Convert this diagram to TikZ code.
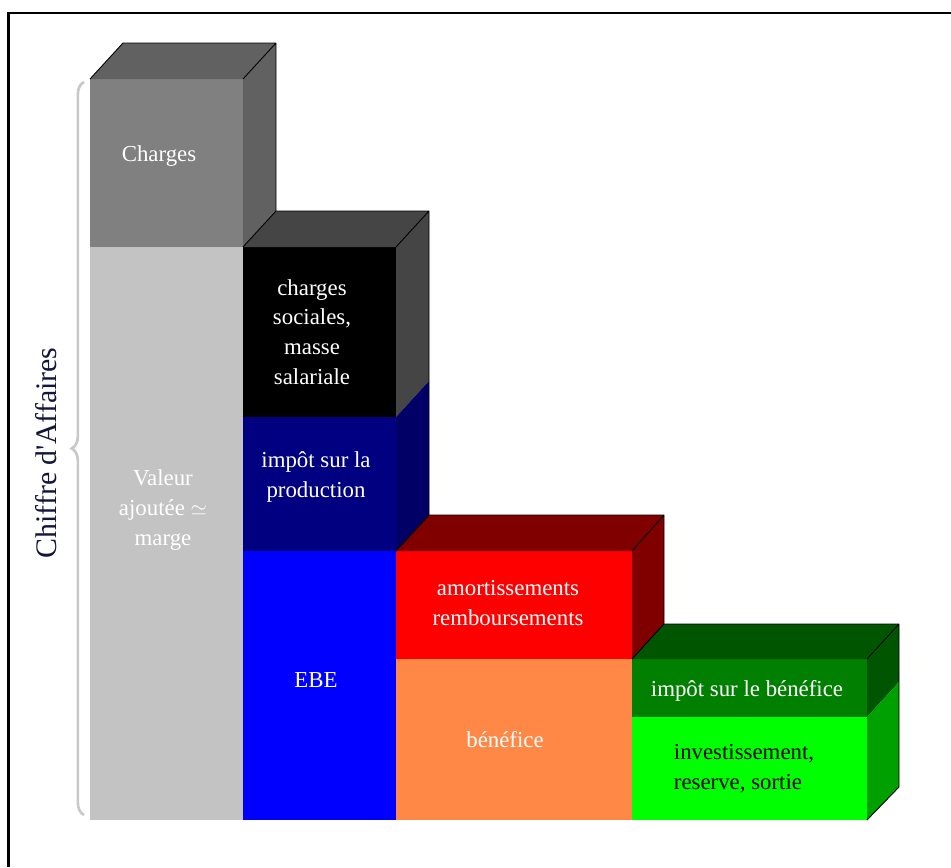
\documentclass[tikz,border=0pt]{standalone}
\usepackage{fontspec}
\setmainfont{Liberation Serif}
\usetikzlibrary{decorations.pathreplacing}

\definecolor{chargesfront}{HTML}{808080}
\definecolor{chargesdark}{HTML}{616161}
\definecolor{valeurfront}{HTML}{C3C3C3}
\definecolor{salairesdark}{HTML}{454545}
\definecolor{prodfront}{HTML}{000080}
\definecolor{proddark}{HTML}{000066}
\definecolor{ebefront}{HTML}{0000FF}
\definecolor{amortfront}{HTML}{FF0000}
\definecolor{amortdark}{HTML}{800000}
\definecolor{beneffront}{HTML}{FF8847}
\definecolor{impbfront}{HTML}{007F00}
\definecolor{impbdark}{HTML}{005600}
\definecolor{investfront}{HTML}{00FF00}
\definecolor{investdark}{HTML}{00A000}
\definecolor{bracegray}{HTML}{C8C8C8}
\definecolor{catext}{HTML}{14143C}

\begin{document}
\begin{tikzpicture}[
    x=0.02cm, y=-0.02cm,
    face/.style={fill=#1},
    edge/.style={draw=black, line width=0.5pt, line join=round},
    boxtext/.style={
        text=white,
        align=center,
        font=\fontsize{13}{17}\selectfont
    }
]
    \useasboundingbox (0,0) rectangle (951,867);
    \draw[line width=1.5pt] (8.5,867) -- (8.5,13) -- (951,13);

    % colonne 1
    \fill[face=valeurfront] (90,247) rectangle (243,820);
    \fill[face=chargesfront] (90,79) rectangle (243,247);
    \fill[face=chargesdark] (90,79) -- (123,43) -- (276,43) -- (243,79) -- cycle;
    \fill[face=chargesdark] (243,79) -- (276,43) -- (276,211) -- (243,247) -- cycle;
    \draw[edge] (90,79) -- (123,43) -- (276,43) -- (276,211) (243,79) -- (276,43);

    % colonne 2
    \fill[face=black] (243,247) rectangle (396,417);
    \fill[face=prodfront] (243,417) rectangle (396,551);
    \fill[face=ebefront] (243,551) rectangle (396,820);
    \fill[face=salairesdark] (243,247) -- (276,211) -- (429,211) -- (396,247) -- cycle;
    \fill[face=salairesdark] (396,247) -- (429,211) -- (429,381) -- (396,417) -- cycle;
    \fill[face=proddark] (396,417) -- (429,381) -- (429,515) -- (396,551) -- cycle;
    \draw[edge] (243,247) -- (276,211) -- (429,211) -- (429,515) (396,247) -- (429,211);

    % colonne 3
    \fill[face=amortfront] (396,551) rectangle (632,659);
    \fill[face=beneffront] (396,659) rectangle (632,820);
    \fill[face=amortdark] (396,551) -- (429,515) -- (664,515) -- (632,551) -- cycle;
    \fill[face=amortdark] (632,551) -- (664,515) -- (664,624) -- (632,659) -- cycle;
    \draw[edge] (396,551) -- (429,515) -- (664,515) -- (664,624) (632,551) -- (664,515);

    % colonne 4
    \fill[face=impbfront] (632,659) rectangle (867,717);
    \fill[face=investfront] (632,717) rectangle (867,820);
    \fill[face=impbdark] (632,659) -- (664,624) -- (899,624) -- (867,659) -- cycle;
    \fill[face=impbdark] (867,659) -- (899,624) -- (899,682) -- (867,717) -- cycle;
    \fill[face=investdark] (867,717) -- (899,682) -- (899,787) -- (867,820) -- cycle;
    \draw[edge] (632,659) -- (664,624) -- (899,624) -- (899,787) -- (867,820) (867,659) -- (899,624);

    \node[boxtext] (charges) at (159,156) {Charges};
    \node[boxtext] (valeur) at (163,510) {Valeur\\ajoutée $\simeq$\\marge};
    \node[boxtext] (salaires) at (312,332) {charges\\sociales,\\masse\\salariale};
    \node[boxtext] (impprod) at (316,477) {impôt sur la\\production};
    \node[boxtext] (ebe) at (316,680) {EBE};
    \node[boxtext] (amort) at (508,603) {amortissements\\remboursements};
    \node[boxtext] (benefice) at (505,740) {bénéfice};
    \node[boxtext] (impbenef) at (747,691) {impôt sur le bénéfice};
    \node[boxtext, text=black, align=left] (invest) at (744,769) {investissement,\\reserve, sortie};

    \draw[bracegray, line width=1.5pt, decorate, decoration={brace, amplitude=7pt}] (84,815) -- (84,82);
    \node[rotate=90, text=catext, font=\fontsize{17}{20}\selectfont] (ca) at (46,453) {Chiffre d\textquotesingle Affaires};
\end{tikzpicture}
\end{document}
